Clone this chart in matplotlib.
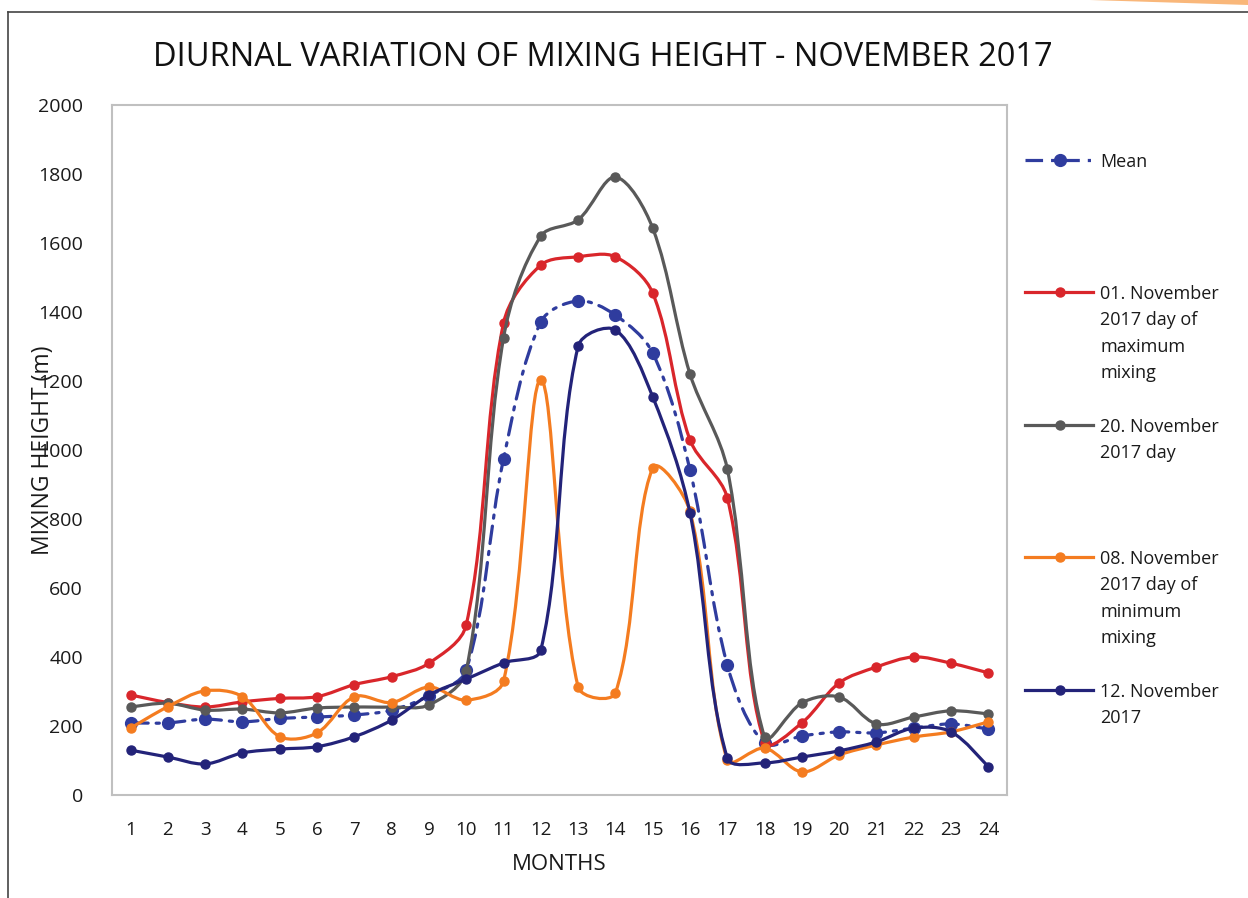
import numpy as np
import matplotlib.pyplot as plt
from matplotlib.path import Path
from matplotlib.patches import PathPatch, Polygon
from matplotlib.lines import Line2D

plt.rcParams['font.family'] = ['Open Sans', 'DejaVu Sans']

hours = list(range(1, 25))

mean_h = [209, 209, 220, 212, 222, 226, 232, 246, 288, 362, 974, 1371,
          1432, 1391, 1281, 942, 377, 150, 171, 183, 180, 194, 206, 191]
nov01 = [290, 268, 255, 270, 280, 285, 320, 343, 382, 493, 1368, 1536,
         1560, 1560, 1455, 1029, 861, 152, 209, 325, 371, 400, 382, 354]
nov20 = [255, 266, 246, 249, 238, 252, 255, 255, 261, 360, 1325, 1620,
         1667, 1791, 1643, 1220, 945, 168, 267, 284, 206, 226, 244, 235]
nov08 = [194, 256, 302, 285, 169, 180, 285, 268, 313, 275, 330, 1203,
         313, 296, 948, 822, 101, 136, 67, 116, 145, 168, 183, 212]
nov12 = [130, 110, 90, 122, 133, 140, 169, 217, 290, 336, 383, 420,
         1301, 1348, 1154, 817, 107, 93, 110, 128, 154, 194, 183, 82]

labels = ["Mean",
          "01. November\n2017 day of\nmaximum\nmixing",
          "20. November\n2017 day",
          "08. November\n2017 day of\nminimum\nmixing",
          "12. November\n2017"]
colors = ['#2f3c9e', '#d9262b', '#595959', '#f47c20', '#232379']

MEAN_DASH = (0, (5.5, 2.5, 1, 2.5))


def smooth_path(ax, x, y):
    # Excel style smoothed line: cubic Bezier segments, tangents weighted
    # by the on-screen segment lengths
    pts = ax.transData.transform(np.column_stack([x, y]).astype(float))
    n = len(pts)
    verts = [pts[0]]
    codes = [Path.MOVETO]
    for i in range(n - 1):
        p0 = pts[i - 1] if i > 0 else pts[i]
        p1 = pts[i]
        p2 = pts[i + 1]
        p3 = pts[i + 2] if i + 2 < n else pts[i + 1]
        d01 = np.hypot(*(p1 - p0))
        d12 = np.hypot(*(p2 - p1))
        d23 = np.hypot(*(p3 - p2))
        f1 = d12 / (d01 + d12) / 1.5 if d01 > 0 else 1 / 3
        f2 = d12 / (d12 + d23) / 1.5 if d23 > 0 else 1 / 3
        c1 = p1 + (p2 - p0) * f1 / 2 if d01 > 0 else p1 + (p2 - p1) * f1 / 2
        c2 = p2 - (p3 - p1) * f2 / 2 if d23 > 0 else p2 - (p2 - p1) * f2 / 2
        verts += [c1, c2, p2]
        codes += [Path.CURVE4] * 3
    verts = ax.transData.inverted().transform(np.array(verts))
    return Path(verts, codes)


fig = plt.figure(figsize=(12.48, 8.98), dpi=100)
ax = fig.add_axes([0.0897, 0.1147, 0.7172, 0.7684])
ax.set_xlim(0.5, 24.5)
ax.set_ylim(0, 2000)

series = [mean_h, nov01, nov20, nov08, nov12]
for k, (vals, col) in enumerate(zip(series, colors)):
    ls = MEAN_DASH if k == 0 else '-'
    ms = 8.5 if k == 0 else 6.5
    patch = PathPatch(smooth_path(ax, hours, vals), fill=False, edgecolor=col,
                      lw=2.3, linestyle=ls, capstyle='round',
                      transform=ax.transData, zorder=3 + k)
    ax.add_patch(patch)
    ax.plot(hours, vals, 'o', color=col, ms=ms, zorder=3 + k)

ax.set_xticks(hours)
ax.set_yticks(range(0, 2001, 200))
ax.tick_params(length=0, colors='#1a1a1a')
ax.tick_params(axis='y', pad=21, labelsize=14)
ax.tick_params(axis='x', pad=19, labelsize=13.5)
for s in ax.spines.values():
    s.set_color('#c0c0c0')
    s.set_linewidth(1.5)

fig.text(603 / 1248, 1 - 57 / 898,
         "DIURNAL VARIATION OF MIXING HEIGHT - NOVEMBER 2017",
         fontsize=23.5, color='#111111', ha='center', va='center')
ax.set_xlabel("MONTHS", fontsize=16, color='#1a1a1a')
ax.xaxis.set_label_coords(0.5, -0.085)
ax.set_ylabel("MIXING HEIGHT (m)", fontsize=16.5, color='#1a1a1a')
ax.yaxis.set_label_coords(-0.064, 0.5)

# legend placed to the right of the plot area
leg_y = [160, 292, 425, 557, 690]
for k, (lab, col) in enumerate(zip(labels, colors)):
    yf = 1 - leg_y[k] / 898
    h = Line2D([1025 / 1248, 1093 / 1248], [yf, yf], color=col, lw=2.3,
               linestyle=MEAN_DASH if k == 0 else '-', transform=fig.transFigure)
    fig.add_artist(h)
    fig.add_artist(Line2D([1060 / 1248], [yf], marker='o', ms=8.5 if k == 0 else 6.5,
                          color=col, linestyle='none', transform=fig.transFigure))
    fig.text(1100 / 1248, yf + 7 / 898, lab, fontsize=13, va='top', ha='left',
             linespacing=1.6, color='#1a1a1a')

# outer chart border (left and top) and the corner stroke
fig.add_artist(Line2D([8 / 1248, 8 / 1248], [0, 1 - 12 / 898], color='#444444', lw=1.2))
fig.add_artist(Line2D([8 / 1248, 1], [1 - 12 / 898, 1 - 12 / 898], color='#444444', lw=1.2))
fig.add_artist(Polygon([[1090 / 1248, 1], [1, 1], [1, 1 - 5 / 898]], closed=True,
                       facecolor='#f9b77a', edgecolor='none', transform=fig.transFigure))

plt.savefig("out.png", dpi=100)
plt.close()
